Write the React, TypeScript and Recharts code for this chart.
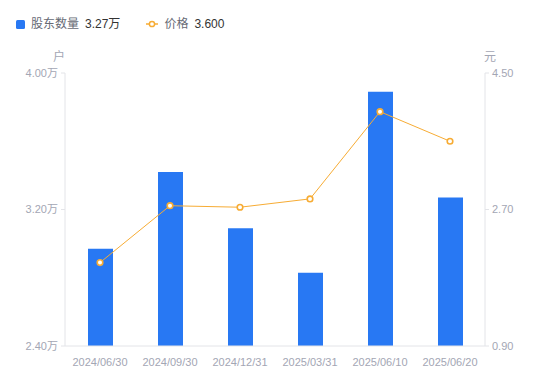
import { ComposedChart, Bar, Line, XAxis, YAxis } from 'recharts';

const dates = ['2024/06/30', '2024/09/30', '2024/12/31', '2025/03/31', '2025/06/10', '2025/06/20'];
// 股东数量, in 万户
const holders = [2.97, 3.42, 3.09, 2.83, 3.89, 3.27];
// 价格, 元
const prices = [2.0, 2.75, 2.73, 2.84, 3.99, 3.6];
const holderTicks = [2.4, 3.2, 4.0];
const priceTicks = [0.9, 2.7, 4.5];

const data = dates.map((date, i) => ({ date, holders: holders[i], price: prices[i] }));

const FONT = '"Liberation Sans", "Noto Sans CJK SC", sans-serif';
const BLUE = '#2878f3';
const ORANGE = '#f7ac34';
const TICK = { fontSize: 11, fill: '#a3a6b4', fontFamily: FONT };

const UnitLabel = ({ viewBox, text, side }: { viewBox?: any; text: string; side: 'left' | 'right' }) => {
  if (!viewBox) return null;
  const x = side === 'left' ? viewBox.x + viewBox.width - 6 : viewBox.x + 5;
  return (
    <text x={x} y={viewBox.y - 12} textAnchor="middle" fontSize={12} fill="#a3a6b4" fontFamily={FONT}>
      {text}
    </text>
  );
};

function LegendBar() {
  return (
    <div
      style={{
        position: 'absolute',
        left: 16,
        top: 15,
        display: 'flex',
        alignItems: 'center',
        fontFamily: FONT,
        fontSize: 12,
        lineHeight: '18px',
      }}
    >
      <span style={{ width: 9, height: 9, background: BLUE, borderRadius: 1.5, display: 'inline-block' }} />
      <span style={{ color: '#666a75', marginLeft: 6 }}>股东数量</span>
      <span style={{ color: '#333', marginLeft: 6 }}>3.27万</span>
      <svg width={12} height={8} style={{ marginLeft: 26 }}>
        <line x1={0} y1={4} x2={12} y2={4} stroke={ORANGE} strokeWidth={1.5} />
        <circle cx={6} cy={4} r={2.6} fill="#fff" stroke={ORANGE} strokeWidth={1.5} />
      </svg>
      <span style={{ color: '#666a75', marginLeft: 6 }}>价格</span>
      <span style={{ color: '#333', marginLeft: 6 }}>3.600</span>
    </div>
  );
}

export default function App() {
  return (
    <div style={{ position: 'absolute', left: 0, top: 0, width: 550, height: 381, background: '#fff' }}>
      <LegendBar />
      <ComposedChart width={550} height={381} data={data} margin={{ top: 73, right: 0, left: 0, bottom: 5 }}>
        <XAxis
          dataKey="date"
          height={30}
          tick={TICK}
          tickLine={false}
          axisLine={{ stroke: '#e3e4e8' }}
          tickMargin={6}
        />
        <YAxis
          yAxisId="left"
          width={65}
          domain={[2.4, 4.0]}
          ticks={holderTicks}
          tickFormatter={(v: number) => `${v.toFixed(2)}万`}
          tick={TICK}
          tickSize={4}
          tickMargin={3}
          tickLine={{ stroke: '#e3e4e8' }}
          axisLine={{ stroke: '#e3e4e8' }}
          label={<UnitLabel text="户" side="left" />}
        />
        <YAxis
          yAxisId="right"
          orientation="right"
          width={65}
          domain={[0.9, 4.5]}
          ticks={priceTicks}
          tickFormatter={(v: number) => v.toFixed(2)}
          tick={TICK}
          tickSize={4}
          tickMargin={3}
          tickLine={{ stroke: '#e3e4e8' }}
          axisLine={{ stroke: '#e3e4e8' }}
          label={<UnitLabel text="元" side="right" />}
        />
        <Bar yAxisId="left" dataKey="holders" fill={BLUE} barSize={25} isAnimationActive={false} />
        <Line
          yAxisId="right"
          dataKey="price"
          stroke={ORANGE}
          strokeWidth={1}
          dot={{ r: 2.8, fill: '#fff', stroke: ORANGE, strokeWidth: 1.6 }}
          activeDot={false}
          isAnimationActive={false}
        />
      </ComposedChart>
    </div>
  );
}
